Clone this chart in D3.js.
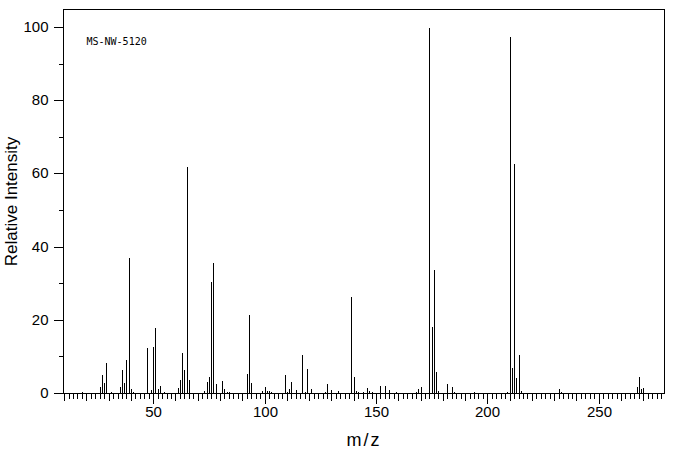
<!DOCTYPE html>
<html>
<head>
<meta charset="utf-8">
<script src="https://cdn.jsdelivr.net/npm/d3@7"></script>
<style>
  body { margin: 0; background: #fff; }
  text { font-family: "Liberation Sans", "DejaVu Sans", sans-serif; fill: #000; }
  .tag { font-family: "DejaVu Sans Mono", monospace; }
</style>
</head>
<body>
<script>
'use strict';

// peak list: m/z and relative intensity
const peak_mz = [14, 15, 17, 18, 26, 27, 28, 29, 31, 32, 34, 35, 36, 37, 38, 39, 40, 41, 42, 43, 44, 45, 46,
    47, 48, 49, 50, 51, 52, 53, 54, 55, 56, 57, 58, 59, 60, 61, 62, 63, 64, 65, 66, 67, 68, 69, 72, 73, 74, 75,
    76, 77, 78, 79, 80, 81, 82, 83, 84, 85, 86, 87, 88, 90, 91, 92, 93, 94, 95, 96, 97, 98, 99, 100, 101, 102,
    103, 104, 105, 107, 109, 110, 111, 112, 113, 114, 115, 117, 118, 119, 121, 123, 124, 127, 128, 129, 130,
    131, 133, 134, 135, 137, 139, 140, 141, 142, 143, 144, 145, 146, 147, 148, 149, 151, 152, 153, 154, 155,
    156, 157, 158, 159, 160, 161, 167, 168, 169, 170, 171, 172, 174, 175, 176, 177, 178, 179, 182, 183, 184,
    185, 186, 187, 188, 190, 192, 194, 196, 198, 204, 207, 208, 209, 210, 211, 212, 213, 214, 215, 216, 226,
    231, 232, 233, 249, 251, 254, 267, 268, 269, 270, 271];
const peak_intensity = [0.2, 0.3, 0.2, 0.5, 1.8, 5.2, 3.0, 8.5, 0.5, 0.4, 0.4, 1.9, 6.6, 3.0, 9.3, 37.2, 1.4, 0.5,
    0.3, 0.3, 0.3, 0.3, 0.3, 12.6, 0.3, 1.1, 12.8, 18.0, 1.4, 2.2, 0.3, 0.5, 0.3, 0.3, 0.3, 0.3, 0.3, 1.6, 3.8,
    11.2, 6.6, 62.1, 3.8, 0.3, 0.3, 0.3, 0.3, 0.8, 3.3, 4.6, 30.7, 35.9, 2.7, 0.3, 0.3, 3.6, 1.4, 0.5, 0.5, 0.3,
    0.3, 0.3, 0.3, 0.3, 0.3, 5.5, 21.6, 3.0, 0.3, 0.3, 0.3, 0.3, 0.8, 1.9, 0.8, 0.8, 0.5, 0.3, 0.3, 0.3, 5.2,
    0.5, 1.4, 3.3, 0.3, 1.1, 0.3, 10.7, 0.5, 6.8, 1.4, 0.3, 0.3, 0.5, 2.7, 0.3, 1.1, 0.3, 0.8, 0.3, 0.3, 0.3,
    26.6, 4.6, 0.8, 0.5, 0.3, 0.5, 0.3, 1.6, 0.8, 0.5, 0.3, 0.3, 2.2, 0.3, 2.2, 0.3, 1.1, 0.3, 0.3, 0.5, 0.3,
    0.3, 0.3, 0.5, 1.4, 1.9, 0.3, 0.3, 100, 18.3, 34.0, 6.0, 0.8, 0.3, 2.7, 0.3, 1.9, 0.5, 0.3, 0.3, 0.3, 0.3,
    0.3, 0.5, 0.3, 0.3, 0.3, 0.3, 0.3, 0.5, 97.6, 7.1, 62.9, 4.4, 10.7, 0.8, 0.3, 0.3, 0.3, 1.4, 0.5, 0.3, 0.3,
    0.3, 1.9, 4.6, 1.4, 1.6, 0.3];

const x_domain = [9.5, 279.3], y_domain = [0, 104.9];
const x_tick_labels = [50, 100, 150, 200, 250];
const y_tick_labels = [0, 20, 40, 60, 80, 100];
const spectrum_name = 'MS-NW-5120';

const width = 676, height = 455;
const margin = {top: 9.5, right: 11.5, bottom: 61.5, left: 63.5};
const content_width = width - margin.left - margin.right;
const content_height = height - margin.top - margin.bottom;

const svg = d3.select('body').append('svg')
    .attr('width', width)
    .attr('height', height);

const x_scale = d3.scaleLinear().domain(x_domain).range([0, content_width]);
const y_scale = d3.scaleLinear().domain(y_domain).range([content_height, 0]);

const content = svg.append('g')
    .attr('transform', `translate(${margin.left},${margin.top})`);

// frame
content.append('rect')
    .attr('width', content_width)
    .attr('height', content_height)
    .attr('fill', 'none')
    .attr('stroke', '#000')
    .attr('shape-rendering', 'crispEdges');

// x ticks: short every 2, medium every 10, long + label every 50
const x_minor = d3.range(10, 279, 2);
const x_axis = d3.axisBottom(x_scale)
    .tickValues(x_minor)
    .tickSizeOuter(0)
    .tickPadding(5)
    .tickFormat(d => x_tick_labels.includes(d) ? d : '');
const x_g = content.append('g')
    .attr('transform', `translate(0,${content_height})`)
    .call(x_axis);
x_g.select('.domain').remove();
x_g.selectAll('.tick')
    .attr('transform', d => `translate(${Math.round(x_scale(d))},0)`);
x_g.selectAll('.tick line')
    .attr('y2', d => d % 50 === 0 ? 10 : d % 10 === 0 ? 7 : 5)
    .attr('shape-rendering', 'crispEdges');
x_g.selectAll('.tick text')
    .attr('y', 13)
    .style('font-size', '15px')
    .style('font-family', null);

// y ticks: labelled every 20, minor halfway
const y_axis = d3.axisLeft(y_scale)
    .tickValues(d3.range(0, 101, 10))
    .tickSizeOuter(0)
    .tickPadding(5)
    .tickFormat(d => y_tick_labels.includes(d) ? d : '');
const y_g = content.append('g').call(y_axis);
y_g.select('.domain').remove();
y_g.selectAll('.tick')
    .attr('transform', d => `translate(0,${Math.round(y_scale(d))})`);
y_g.selectAll('.tick line')
    .attr('x2', d => d % 20 === 0 ? -10 : -5)
    .attr('shape-rendering', 'crispEdges');
y_g.selectAll('.tick text')
    .attr('x', -15)
    .style('font-size', '15px')
    .style('font-family', null);

// peaks, snapped to whole pixels
const peaks = d3.zip(peak_mz, peak_intensity);
content.selectAll('.peak')
    .data(peaks)
    .enter().append('line')
    .attr('class', 'peak')
    .attr('x1', ([m]) => Math.round(x_scale(m)))
    .attr('x2', ([m]) => Math.round(x_scale(m)))
    .attr('y1', content_height)
    .attr('y2', ([, v]) => Math.round(y_scale(v)))
    .attr('stroke', '#000')
    .attr('stroke-width', 1)
    .attr('shape-rendering', 'crispEdges');

content.append('text')
    .attr('class', 'tag')
    .attr('x', 23)
    .attr('y', 35)
    .style('font-size', '10px')
    .text(spectrum_name);

// axis titles
svg.append('text')
    .attr('x', margin.left + content_width / 2)
    .attr('y', 446)
    .attr('text-anchor', 'middle')
    .style('font-size', '18px')
    .style('letter-spacing', '2px')
    .text('m/z');

svg.append('text')
    .attr('transform', `translate(17,${margin.top + content_height / 2}) rotate(-90)`)
    .attr('text-anchor', 'middle')
    .style('font-size', '17px')
    .text('Relative Intensity');
</script>
</body>
</html>
